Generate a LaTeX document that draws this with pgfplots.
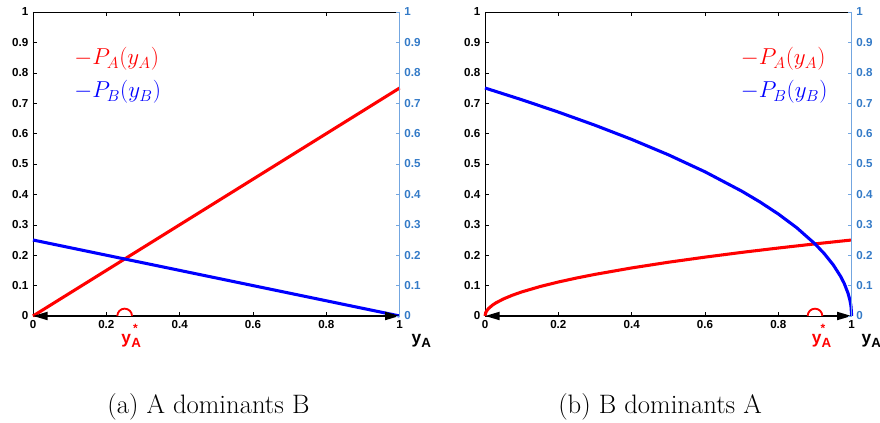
\documentclass[border=0pt]{standalone}
\usepackage{fontspec}
\setsansfont{Liberation Sans}
\usepackage{pgfplots}
\pgfplotsset{compat=1.18}
\usetikzlibrary{arrows.meta}
\definecolor{rblue}{rgb}{0.2,0.48,0.78}
\definecolor{rline}{rgb}{0.45,0.65,0.88}
\pgfplotsset{
  base/.style={scale only axis, width=275pt, height=228pt,
    xmin=0, xmax=1, ymin=0, ymax=1, anchor=south west, clip=false,
    /pgf/number format/assume math mode=true,
    ticklabel style={font=\sffamily\bfseries\fontsize{8.7}{10}\selectfont},
    major tick length=3pt, tick align=inside,
    ytick={0,0.1,0.2,0.3,0.4,0.5,0.6,0.7,0.8,0.9,1}},
  mainax/.style={base, axis x line*=box, axis y line*=left,
    xtick={0,0.2,0.4,0.6,0.8,1}, xtick pos=both, ytick pos=left,
    tick style={black, line width=0.4pt}, axis line style={black, line width=0.5pt}},
  rightax/.style={base, axis y line*=right, axis x line=none,
    y axis line style={rline, line width=0.6pt}, ytick style={rline, line width=0.4pt},
    yticklabel style={rblue}},
}
\newcommand{\yA}{y$_{\hbox{\sffamily\bfseries\fontsize{10}{10}\selectfont A}}$}
% y_A^* built from three pieces at x = #1, star shifted by #2
\newcommand{\ystar}[2]{%
  \node[anchor=base west, red, inner sep=0pt, font=\sffamily\bfseries\fontsize{13}{15}\selectfont] at ([xshift=-2.6pt,yshift=-20.5pt]axis cs:#1,0) {y};
  \node[anchor=base west, red, inner sep=0pt, font=\sffamily\bfseries\fontsize{10}{12}\selectfont] at ([xshift=4.8pt,yshift=-24pt]axis cs:#1,0) {A};
  \node[anchor=base, red, inner sep=0pt, font=\sffamily\bfseries\fontsize{9}{10}\selectfont] at ([xshift=#2,yshift=-12.5pt]axis cs:#1,0) {*};
}
\begin{document}
\begin{tikzpicture}
\useasboundingbox (0,0) rectangle (660pt,317.25pt);
% ---------------- panel (a)
\begin{axis}[mainax, at={(24.75pt,80.25pt)}]
\addplot[red, line width=2.3pt] coordinates {(0,0) (1,0.75)};
\addplot[blue, line width=2.3pt] coordinates {(0,0.25) (1,0)};
\addplot[black, line width=1.5pt, {Triangle[length=11pt,width=6pt]}-{Triangle[length=11pt,width=6pt]}] coordinates {(0,0) (1,0)};
\draw[red, line width=1.4pt, fill=white] ([xshift=-5.5pt]axis cs:0.25,0) arc[start angle=180, end angle=0, radius=5.5pt];
\ystar{0.25}{8pt}
\node[anchor=west, red, font=\fontsize{16.5}{19}\selectfont] at (rel axis cs:0.1,0.845) {$-P_A(y_A)$};
\node[anchor=west, blue, font=\fontsize{16.5}{19}\selectfont] at (rel axis cs:0.1,0.737) {$-P_B(y_B)$};
\coordinate (Lend) at (axis cs:1,0);
\end{axis}
\begin{axis}[rightax, at={(24.75pt,80.25pt)}]
\addplot[draw=none] coordinates {(0,0)};
\end{axis}
\begin{scope}
\clip (0,0) rectangle (330pt,317.25pt);
\node[anchor=base west, inner sep=0pt, font=\sffamily\bfseries\fontsize{13}{15}\selectfont] at ([xshift=8.8pt,yshift=-21pt]Lend) {\yA};
\end{scope}
\node[anchor=base, font=\fontsize{20}{24}\selectfont] at (156.3pt,6.75pt) {(a) A dominants B};
% ---------------- panel (b)
\begin{axis}[mainax, at={(363.75pt,80.25pt)}]
\addplot[red, line width=2.3pt] coordinates {
(0,0) (0.002,0.0112) (0.005,0.0177) (0.01,0.025) (0.02,0.0354) (0.03,0.0433)
(0.05,0.0559) (0.075,0.0685) (0.1,0.0791) (0.15,0.0968) (0.2,0.1118) (0.25,0.125)
(0.3,0.1369) (0.4,0.1581) (0.5,0.1768) (0.6,0.1936) (0.7,0.2092) (0.8,0.2236)
(0.9,0.2372) (1,0.25)};
\addplot[blue, line width=2.3pt] coordinates {
(0,0.75) (0.1,0.7115) (0.2,0.6708) (0.3,0.6275) (0.4,0.5809) (0.5,0.5303)
(0.6,0.4743) (0.7,0.4108) (0.75,0.375) (0.8,0.3354) (0.85,0.2905) (0.9,0.2372)
(0.925,0.2054) (0.95,0.1677) (0.97,0.1299) (0.98,0.1061) (0.99,0.075)
(0.995,0.053) (0.998,0.0335) (1,0)};
\addplot[black, line width=1.5pt, {Triangle[length=11pt,width=6pt]}-{Triangle[length=11pt,width=6pt]}] coordinates {(0,0) (1,0)};
\draw[red, line width=1.4pt, fill=white] ([xshift=-5.5pt]axis cs:0.9,0) arc[start angle=180, end angle=0, radius=5.5pt];
\ystar{0.9}{6pt}
\node[anchor=west, red, font=\fontsize{16.5}{19}\selectfont] at (rel axis cs:0.685,0.845) {$-P_A(y_A)$};
\node[anchor=west, blue, font=\fontsize{16.5}{19}\selectfont] at (rel axis cs:0.685,0.737) {$-P_B(y_B)$};
\coordinate (Rend) at (axis cs:1,0);
\end{axis}
\begin{axis}[rightax, at={(363.75pt,80.25pt)}]
\addplot[draw=none] coordinates {(0,0)};
\end{axis}
\node[anchor=base west, inner sep=0pt, font=\sffamily\bfseries\fontsize{13}{15}\selectfont] at ([xshift=7.3pt,yshift=-21pt]Rend) {\yA};
\node[anchor=base, font=\fontsize{20}{24}\selectfont] at (495pt,6.75pt) {(b) B dominants A};
\end{tikzpicture}
\end{document}
